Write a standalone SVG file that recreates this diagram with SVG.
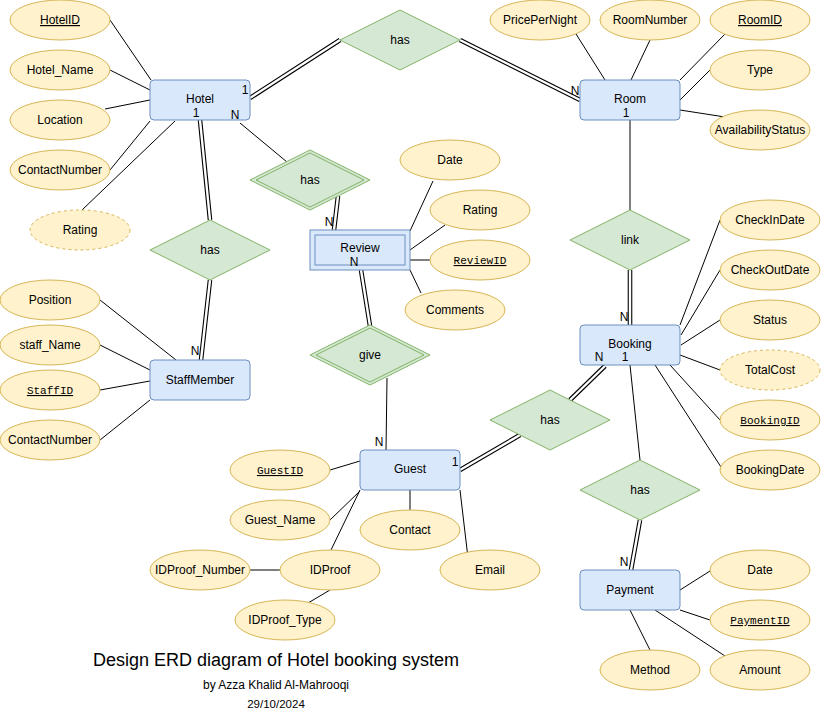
<svg xmlns="http://www.w3.org/2000/svg" width="821" height="721" viewBox="0 0 821 721">
<style>
text{font-family:"Liberation Sans",Arial,Helvetica,sans-serif;font-size:12px;fill:#000;text-anchor:middle}
.mono{font-family:"Liberation Mono","Courier New",monospace;font-size:11px;text-decoration:underline}
.u{text-decoration:underline}
.ent{fill:#dae8fc;stroke:#6c8ebf;stroke-width:1}
.att{fill:#fff2cc;stroke:#d6b656;stroke-width:1}
.dash{stroke-dasharray:3 3}
.rel{fill:#d5e8d4;stroke:#82b366;stroke-width:1}
.ln{stroke:#000;stroke-width:1;fill:none}
.dblo{stroke:#000;stroke-width:4.6;fill:none}
.dbli{stroke:#fff;stroke-width:2.4;fill:none}
</style>
<rect width="821" height="721" fill="#fff"/>
<g id="connectors">
<line class="ln" x1="110" y1="20" x2="151" y2="80"/>
<line class="ln" x1="110" y1="70" x2="150" y2="90"/>
<line class="ln" x1="105" y1="109" x2="150" y2="100"/>
<line class="ln" x1="110" y1="170" x2="150" y2="121"/>
<line class="ln" x1="82" y1="210" x2="175" y2="121"/>
<line class="ln" x1="240" y1="123" x2="287" y2="162"/>
<line class="ln" x1="100" y1="300" x2="176" y2="360"/>
<line class="ln" x1="100" y1="345" x2="150" y2="370"/>
<line class="ln" x1="100" y1="390" x2="150" y2="381"/>
<line class="ln" x1="100" y1="440" x2="150" y2="400"/>
<line class="ln" x1="576" y1="34" x2="605" y2="80"/>
<line class="ln" x1="650" y1="40" x2="631" y2="80"/>
<line class="ln" x1="725" y1="34" x2="680" y2="80"/>
<line class="ln" x1="710" y1="70" x2="680" y2="100"/>
<line class="ln" x1="680" y1="110" x2="725" y2="117"/>
<line class="ln" x1="630" y1="120" x2="630" y2="210"/>
<line class="ln" x1="410" y1="231" x2="433" y2="181"/>
<line class="ln" x1="410" y1="250" x2="445" y2="225"/>
<line class="ln" x1="410" y1="260" x2="430" y2="260"/>
<line class="ln" x1="410" y1="270" x2="421" y2="293"/>
<line class="ln" x1="387" y1="378" x2="386" y2="450"/>
<line class="ln" x1="680" y1="325" x2="720" y2="220"/>
<line class="ln" x1="681" y1="335" x2="720" y2="270"/>
<line class="ln" x1="681" y1="345" x2="720" y2="320"/>
<line class="ln" x1="680" y1="355" x2="720" y2="370"/>
<line class="ln" x1="670" y1="365" x2="720" y2="420"/>
<line class="ln" x1="655" y1="365" x2="721" y2="467"/>
<line class="ln" x1="630" y1="365" x2="640" y2="460"/>
<line class="ln" x1="330" y1="470" x2="360" y2="461"/>
<line class="ln" x1="330" y1="520" x2="360" y2="491"/>
<line class="ln" x1="331" y1="550" x2="360" y2="490"/>
<line class="ln" x1="410" y1="490" x2="410" y2="510"/>
<line class="ln" x1="460" y1="490" x2="468" y2="558"/>
<line class="ln" x1="250" y1="570" x2="280" y2="570"/>
<line class="ln" x1="330" y1="590" x2="308" y2="603"/>
<line class="ln" x1="680" y1="590" x2="710" y2="571"/>
<line class="ln" x1="680" y1="610" x2="710" y2="620"/>
<line class="ln" x1="655" y1="610" x2="725" y2="656"/>
<line class="ln" x1="630" y1="610" x2="650" y2="650"/>
<g id="double-links">
<path class="dblo" d="M250,98 L340,40 M460,40 L580,100 M200,120 L210,220 M210,280 L201,360 M338,196 L334,230 M361,270 L370,326 M630,270 L630,325 M605,366 L570,400 M520,435 L460,470 M640,520 L631,570"/>
<path class="dbli" d="M250,98 L340,40 M460,40 L580,100 M200,120 L210,220 M210,280 L201,360 M338,196 L334,230 M361,270 L370,326 M630,270 L630,325 M605,366 L570,400 M520,435 L460,470 M640,520 L631,570"/>
</g>
</g>
<g id="rel-has-hotel-room"><polygon class="rel" points="340,40 400,10 460,40 400,70"/><text x="400" y="44">has</text></g>
<g id="rel-has-hotel-staff"><polygon class="rel" points="150,250 210,220 270,250 210,280"/><text x="210" y="254">has</text></g>
<g id="rel-has-hotel-review"><polygon class="rel" points="250,180 310,150 370,180 310,210"/><polygon class="rel" points="256,180 310,153 364,180 310,207"/><text x="310" y="184">has</text></g>
<g id="rel-give"><polygon class="rel" points="310,355 370,325 430,355 370,385"/><polygon class="rel" points="316,355 370,328 424,355 370,382"/><text x="370" y="359">give</text></g>
<g id="rel-link"><polygon class="rel" points="570,240 630,210 690,240 630,270"/><text x="630" y="244">link</text></g>
<g id="rel-has-guest-booking"><polygon class="rel" points="490,420 550,390 610,420 550,450"/><text x="550" y="424">has</text></g>
<g id="rel-has-booking-payment"><polygon class="rel" points="580,490 640,460 700,490 640,520"/><text x="640" y="494">has</text></g>
<g id="ent-hotel"><rect class="ent" x="150" y="80" width="100" height="40" rx="4"/><text x="200" y="103">Hotel</text><text x="196" y="117">1</text><text x="245" y="94">1</text><text x="235" y="119">N</text></g>
<g id="ent-room"><rect class="ent" x="580" y="80" width="100" height="40" rx="4"/><text x="630" y="103">Room</text><text x="626" y="117">1</text><text x="575" y="95">N</text></g>
<g id="ent-staff"><rect class="ent" x="150" y="360" width="100" height="40" rx="4"/><text x="200" y="384">StaffMember</text><text x="195" y="355">N</text></g>
<g id="ent-review"><rect class="ent" x="310" y="230" width="100" height="40"/><rect class="ent" x="315" y="235" width="90" height="30"/><text x="360" y="252">Review</text><text x="354" y="266">N</text><text x="329" y="226">N</text></g>
<g id="ent-booking"><rect class="ent" x="580" y="325" width="100" height="40" rx="4"/><text x="630" y="348">Booking</text><text x="599" y="361">N</text><text x="625" y="361">1</text><text x="624" y="321">N</text></g>
<g id="ent-guest"><rect class="ent" x="360" y="450" width="100" height="40" rx="4"/><text x="410" y="473">Guest</text><text x="455" y="466">1</text><text x="379" y="446">N</text></g>
<g id="ent-payment"><rect class="ent" x="580" y="570" width="100" height="40" rx="4"/><text x="630" y="594">Payment</text><text x="624" y="566">N</text></g>
<g id="att-hotelid"><ellipse class="att" cx="60" cy="20" rx="50" ry="20"/><text class="u" x="60" y="24">HotelID</text></g>
<g id="att-hotelname"><ellipse class="att" cx="60" cy="70" rx="50" ry="20"/><text x="60" y="74">Hotel_Name</text></g>
<g id="att-location"><ellipse class="att" cx="60" cy="120" rx="50" ry="20"/><text x="60" y="124">Location</text></g>
<g id="att-hotelcontact"><ellipse class="att" cx="60" cy="170" rx="50" ry="20"/><text x="60" y="174">ContactNumber</text></g>
<g id="att-hotelrating"><ellipse class="att dash" cx="80" cy="230" rx="50" ry="20"/><text x="80" y="234">Rating</text></g>
<g id="att-position"><ellipse class="att" cx="50" cy="300" rx="50" ry="20"/><text x="50" y="304">Position</text></g>
<g id="att-staffname"><ellipse class="att" cx="50" cy="345" rx="50" ry="20"/><text x="50" y="349">staff_Name</text></g>
<g id="att-staffid"><ellipse class="att" cx="50" cy="390" rx="50" ry="20"/><text class="mono" x="50" y="394">StaffID</text></g>
<g id="att-staffcontact"><ellipse class="att" cx="50" cy="440" rx="50" ry="20"/><text x="50" y="444">ContactNumber</text></g>
<g id="att-price"><ellipse class="att" cx="540" cy="20" rx="50" ry="20"/><text x="540" y="24">PricePerNight</text></g>
<g id="att-roomnumber"><ellipse class="att" cx="650" cy="20" rx="50" ry="20"/><text x="650" y="24">RoomNumber</text></g>
<g id="att-roomid"><ellipse class="att" cx="760" cy="20" rx="50" ry="20"/><text class="u" x="760" y="24">RoomID</text></g>
<g id="att-type"><ellipse class="att" cx="760" cy="70" rx="50" ry="20"/><text x="760" y="74">Type</text></g>
<g id="att-avail"><ellipse class="att" cx="760" cy="130" rx="50" ry="20"/><text x="760" y="134">AvailabilityStatus</text></g>
<g id="att-reviewdate"><ellipse class="att" cx="450" cy="160" rx="50" ry="20"/><text x="450" y="164">Date</text></g>
<g id="att-reviewrating"><ellipse class="att" cx="480" cy="210" rx="50" ry="20"/><text x="480" y="214">Rating</text></g>
<g id="att-reviewid"><ellipse class="att" cx="480" cy="260" rx="50" ry="20"/><text class="mono" x="480" y="264">ReviewID</text></g>
<g id="att-comments"><ellipse class="att" cx="455" cy="310" rx="50" ry="20"/><text x="455" y="314">Comments</text></g>
<g id="att-checkin"><ellipse class="att" cx="770" cy="220" rx="50" ry="20"/><text x="770" y="224">CheckInDate</text></g>
<g id="att-checkout"><ellipse class="att" cx="770" cy="270" rx="50" ry="20"/><text x="770" y="274">CheckOutDate</text></g>
<g id="att-status"><ellipse class="att" cx="770" cy="320" rx="50" ry="20"/><text x="770" y="324">Status</text></g>
<g id="att-totalcost"><ellipse class="att dash" cx="770" cy="370" rx="50" ry="20"/><text x="770" y="374">TotalCost</text></g>
<g id="att-bookingid"><ellipse class="att" cx="770" cy="420" rx="50" ry="20"/><text class="mono" x="770" y="424">BookingID</text></g>
<g id="att-bookingdate"><ellipse class="att" cx="770" cy="470" rx="50" ry="20"/><text x="770" y="474">BookingDate</text></g>
<g id="att-guestid"><ellipse class="att" cx="280" cy="470" rx="50" ry="20"/><text class="mono" x="280" y="474">GuestID</text></g>
<g id="att-guestname"><ellipse class="att" cx="280" cy="520" rx="50" ry="20"/><text x="280" y="524">Guest_Name</text></g>
<g id="att-contact"><ellipse class="att" cx="410" cy="530" rx="50" ry="20"/><text x="410" y="534">Contact</text></g>
<g id="att-idproof"><ellipse class="att" cx="330" cy="570" rx="50" ry="20"/><text x="330" y="574">IDProof</text></g>
<g id="att-idproofnumber"><ellipse class="att" cx="200" cy="570" rx="50" ry="20"/><text x="200" y="574">IDProof_Number</text></g>
<g id="att-idprooftype"><ellipse class="att" cx="285" cy="620" rx="50" ry="20"/><text x="285" y="624">IDProof_Type</text></g>
<g id="att-email"><ellipse class="att" cx="490" cy="570" rx="50" ry="20"/><text x="490" y="574">Email</text></g>
<g id="att-paydate"><ellipse class="att" cx="760" cy="570" rx="50" ry="20"/><text x="760" y="574">Date</text></g>
<g id="att-paymentid"><ellipse class="att" cx="760" cy="620" rx="50" ry="20"/><text class="mono" x="760" y="624">PaymentID</text></g>
<g id="att-amount"><ellipse class="att" cx="760" cy="670" rx="50" ry="20"/><text x="760" y="674">Amount</text></g>
<g id="att-method"><ellipse class="att" cx="650" cy="670" rx="50" ry="20"/><text x="650" y="674">Method</text></g>
<g id="title">
<text x="276" y="666" style="font-size:18px">Design ERD diagram of Hotel booking system</text>
<text x="276" y="689" style="font-size:12px">by Azza Khalid Al-Mahrooqi</text>
<text x="276" y="708" style="font-size:11.5px">29/10/2024</text>
</g>
</svg>
